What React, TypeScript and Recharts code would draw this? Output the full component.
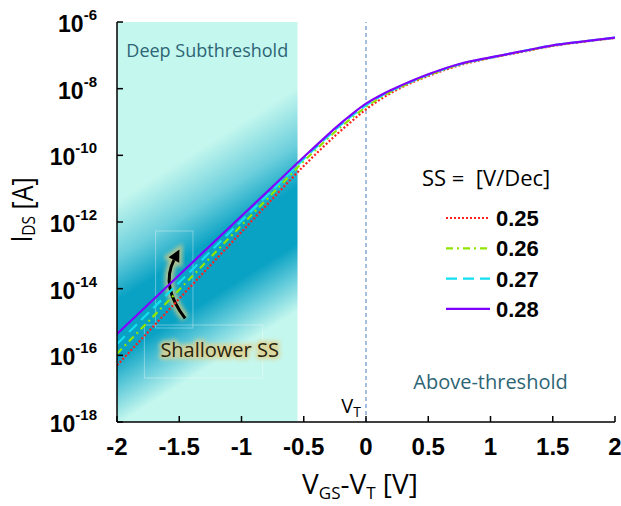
import React from "react"
import { LineChart, Line, XAxis, YAxis, ReferenceArea, ReferenceLine, ReferenceDot, Legend } from "recharts"

// V_GS - V_T sweep [V]
const vgs = [-2, -1.5, -1, -0.75, -0.5, -0.375, -0.25, -0.125, 0, 0.125, 0.25, 0.5, 0.75, 1, 1.25, 1.5, 1.75, 2]

// log10(I_DS) for each subthreshold swing
const ss025 = [-16.3, -14.3, -12.3, -11.3, -10.32, -9.86, -9.42, -9.01, -8.62, -8.3, -8.03, -7.62, -7.3, -7.08, -6.9, -6.72, -6.59, -6.48]
const ss026 = [-15.95, -14.03, -12.1, -11.14, -10.18, -9.73, -9.3, -8.91, -8.55, -8.25, -8.0, -7.6, -7.28, -7.07, -6.89, -6.71, -6.58, -6.48]
const ss027 = [-15.66, -13.81, -11.96, -11.04, -10.11, -9.67, -9.24, -8.85, -8.5, -8.21, -7.98, -7.58, -7.27, -7.07, -6.88, -6.7, -6.58, -6.47]
const ss028 = [-15.36, -13.59, -11.82, -10.94, -10.05, -9.62, -9.19, -8.8, -8.45, -8.18, -7.96, -7.57, -7.26, -7.06, -6.88, -6.7, -6.58, -6.47]

const ssLabels = ["0.25", "0.26", "0.27", "0.28"]
const ssKeys = ["s25", "s26", "s27", "s28"]
const ssColors = ["#ff1e1e", "#8fe600", "#12e0f0", "#8000ff"]
const ssDash = ["2 2", "7 4 2 4", "11 6", undefined]

const xTicks = [-2, -1.5, -1, -0.5, 0, 0.5, 1, 1.5, 2]
const yTicks = [-18, -16, -14, -12, -10, -8, -6]

const data = vgs.map((v, i) => ({ v, s25: ss025[i], s26: ss026[i], s27: ss027[i], s28: ss028[i] }))

const LIGHT = "#c4f7ee"
const DARK = "#0aa2c4"
const TEXT_TEAL = "#2d6575"
const HUMANIST = "'Open Sans', 'Noto Sans', sans-serif"
const BOLD_SANS = "'Liberation Sans', Arial, sans-serif"

function SubthresholdShade(props: any) {
  const { x, y, width, height } = props
  const cx = x + width * 0.5
  const cy = y + height * 0.625
  return (
    <g>
      <defs>
        <linearGradient id="subBand" gradientUnits="userSpaceOnUse" x1={cx - 80} y1={cy - 127} x2={cx + 80} y2={cy + 127}>
          <stop offset="0" stopColor={LIGHT} />
          <stop offset="0.14" stopColor={LIGHT} />
          <stop offset="0.3" stopColor="#6ccfdc" />
          <stop offset="0.42" stopColor={DARK} />
          <stop offset="0.58" stopColor={DARK} />
          <stop offset="0.67" stopColor="#62cbda" />
          <stop offset="0.77" stopColor={LIGHT} />
          <stop offset="1" stopColor={LIGHT} />
        </linearGradient>
      </defs>
      <rect x={x} y={y} width={width} height={height} fill="url(#subBand)" />
      <text x={cx} y={y + 35} textAnchor="middle" fontFamily={HUMANIST} fontSize={18} fill={TEXT_TEAL}>
        Deep Subthreshold
      </text>
    </g>
  )
}

function ArrowBox(props: any) {
  const { x, y, width: w, height: h } = props
  const p0 = [x + 0.79 * w, y + 0.9 * h]
  const c = [x + 0.13 * w, y + 0.57 * h]
  const p2 = [x + 0.49 * w, y + 0.3 * h]
  const dx = p2[0] - c[0]
  const dy = p2[1] - c[1]
  const len = Math.hypot(dx, dy)
  const ux = dx / len
  const uy = dy / len
  const tip = [p2[0] + ux * 12, p2[1] + uy * 12]
  const b1 = [p2[0] - uy * 6, p2[1] + ux * 6]
  const b2 = [p2[0] + uy * 6, p2[1] - ux * 6]
  const d = `M${p0[0]},${p0[1]} Q${c[0]},${c[1]} ${p2[0]},${p2[1]}`
  const head = `M${tip[0]},${tip[1]} L${b1[0]},${b1[1]} L${b2[0]},${b2[1]} Z`
  return (
    <g>
      <defs>
        <filter id="softGlow" x="-50%" y="-50%" width="200%" height="200%">
          <feGaussianBlur stdDeviation="2" />
        </filter>
      </defs>
      <rect x={x} y={y} width={w} height={h} fill="none" stroke="rgba(255,255,255,0.35)" />
      <path d={d} fill="none" stroke="#d8cc84" strokeWidth={9} opacity={0.8} filter="url(#softGlow)" />
      <path d={head} fill="#d8cc84" stroke="#d8cc84" strokeWidth={6} opacity={0.8} filter="url(#softGlow)" />
      <path d={d} fill="none" stroke="#000" strokeWidth={3} />
      <path d={head} fill="#000" />
    </g>
  )
}

function TextBox(props: any) {
  const { x, y, width, height } = props
  return (
    <g>
      <rect x={x} y={y} width={width} height={height} fill="none" stroke="rgba(255,255,255,0.35)" />
      <text x={x + 16} y={y + 32} fontFamily={HUMANIST} fontSize={20} fill="#e0d290" stroke="#e0d290" strokeWidth={5}
        strokeLinejoin="round" opacity={0.85} filter="url(#softGlow)">
        Shallower SS
      </text>
      <text x={x + 16} y={y + 32} fontFamily={HUMANIST} fontSize={20} fill="#26240f">
        Shallower SS
      </text>
    </g>
  )
}

function XTick(props: any) {
  const { x, y, payload } = props
  return (
    <text x={x} y={y + 17} textAnchor="middle" fontFamily={BOLD_SANS} fontWeight="bold" fontSize={24} fill="#000">
      {String(payload.value)}
    </text>
  )
}

function YTick(props: any) {
  const { x, y, payload } = props
  return (
    <text x={x} y={y + 10} textAnchor="end" fontFamily={BOLD_SANS} fontWeight="bold" fill="#000">
      <tspan fontSize={23}>10</tspan>
      <tspan fontSize={15} dy={-12}>{String(payload.value)}</tspan>
    </text>
  )
}

function SSLegend() {
  return (
    <svg width={200} height={170}>
      <text x={17} y={26} fontFamily={HUMANIST} fontSize={22} fill="#000" style={{ whiteSpace: "pre" }}>
        {"SS =  [V/Dec]"}
      </text>
      {ssLabels.map((lab, i) => {
        const ry = 58 + i * 30.3
        return (
          <g key={lab}>
            <line x1={41} x2={85} y1={ry} y2={ry} stroke={ssColors[i]} strokeWidth={2.2} strokeDasharray={ssDash[i]} />
            <text x={91} y={ry + 8} fontFamily={BOLD_SANS} fontWeight="bold" fontSize={22} fill="#000">
              {lab}
            </text>
          </g>
        )
      })}
    </svg>
  )
}

export default function App() {
  return (
    <div style={{ position: "absolute", left: 0, top: 0, background: "#fff" }}>
      <LineChart width={621} height={506} data={data} margin={{ top: 22, right: 6, left: 57, bottom: 44 }}>
        <XAxis
          dataKey="v"
          type="number"
          domain={[-2, 2]}
          ticks={xTicks}
          allowDataOverflow
          height={40}
          tickSize={-6}
          tickMargin={22}
          tick={<XTick />}
          stroke="#000"
          strokeWidth={1.5}
          label={{
            content: (p: any) => {
              const vb = p.viewBox
              return (
                <text x={vb.x + vb.width / 2 - 6} y={vb.y + 72} textAnchor="middle" fontFamily={HUMANIST} fontSize={28} fill="#000">
                  V<tspan fontSize={17} dy={5}>GS</tspan>
                  <tspan dy={-5}>-V</tspan>
                  <tspan fontSize={17} dy={5}>T</tspan>
                  <tspan dy={-5}> [V]</tspan>
                </text>
              )
            },
          }}
        />
        <XAxis xAxisId="top" orientation="top" dataKey="v" type="number" domain={[-2, 2]} ticks={xTicks} height={0}
          tickSize={-6} tick={false} stroke="#000" strokeWidth={1.5} allowDataOverflow />
        <YAxis
          type="number"
          domain={[-18, -6]}
          ticks={yTicks}
          allowDataOverflow
          width={60}
          tickSize={-6}
          tickMargin={26}
          tick={<YTick />}
          stroke="#000"
          strokeWidth={1.5}
          label={{
            content: (p: any) => {
              const vb = p.viewBox
              const cx = vb.x - 36
              const cy = vb.y + vb.height / 2 - 12
              return (
                <g transform={`translate(${cx} ${cy}) rotate(-90) scale(0.86 1)`}>
                  <text x={0} y={0} textAnchor="middle" dominantBaseline="central" fontFamily={HUMANIST} fontSize={29} fill="#000">
                    I<tspan fontSize={18} dy={6}>DS</tspan>
                    <tspan dy={-6}> [A]</tspan>
                  </text>
                </g>
              )
            },
          }}
        />
        <YAxis yAxisId="right" orientation="right" type="number" domain={[-18, -6]} ticks={yTicks} width={0}
          tickSize={-6} tick={false} stroke="#000" strokeWidth={1.5} allowDataOverflow />

        <ReferenceArea x1={-2} x2={-0.55} y1={-18} y2={-6} shape={<SubthresholdShade />} />
        <ReferenceArea x1={-1.69} x2={-1.39} y1={-15.18} y2={-12.27} shape={<ArrowBox />} />
        <ReferenceArea x1={-1.78} x2={-0.83} y1={-16.68} y2={-15.09} shape={<TextBox />} />
        <ReferenceLine
          x={0}
          stroke="#4a7fc0"
          strokeDasharray="4 3"
          strokeWidth={1}
          label={{
            content: (p: any) => {
              const vb = p.viewBox
              return (
                <text x={vb.x - 5} y={vb.y + vb.height - 9} textAnchor="end" fontFamily={HUMANIST} fontSize={20} fill="#000">
                  V<tspan fontSize={14} dy={4}>T</tspan>
                </text>
              )
            },
          }}
        />
        <ReferenceDot
          x={1}
          y={-16.79}
          r={0}
          shape={(p: any) => (
            <text x={p.cx} y={p.cy + 7.5} textAnchor="middle" fontFamily={HUMANIST} fontSize={20} fill={TEXT_TEAL}>
              Above-threshold
            </text>
          )}
        />

        {ssKeys.map((k, i) => (
          <Line
            key={k}
            dataKey={k}
            name={ssLabels[i]}
            type="monotone"
            stroke={ssColors[i]}
            strokeWidth={2.2}
            strokeDasharray={ssDash[i]}
            dot={false}
            activeDot={false}
            isAnimationActive={false}
          />
        ))}

        <Legend
          layout="vertical"
          align="center"
          verticalAlign="middle"
          content={() => <SSLegend />}
          wrapperStyle={{ position: "absolute", left: 405, top: 160, width: 200, height: 170 }}
        />
      </LineChart>
    </div>
  )
}
